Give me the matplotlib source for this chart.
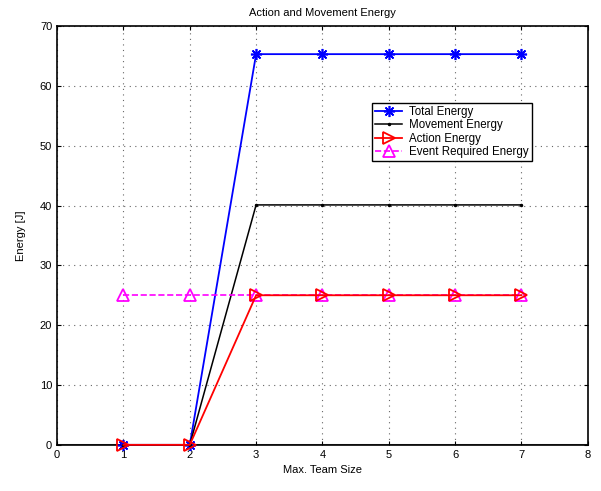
import matplotlib.pyplot as plt

plt.rcParams['font.family'] = ['Liberation Sans', 'DejaVu Sans']

# team sizes and energy per series
team_size = [1, 2, 3, 4, 5, 6, 7]
total_energy = [0, 0, 65.3, 65.3, 65.3, 65.3, 65.3]
movement_energy = [0, 0, 40.1, 40.1, 40.1, 40.1, 40.1]
action_energy = [0, 0, 25.0, 25.0, 25.0, 25.0, 25.0]
event_required = [25, 25, 25, 25, 25, 25, 25]

fig = plt.figure(figsize=(6.01, 4.91), dpi=100)
ax = fig.add_axes([0.095, 0.094, 0.883, 0.853])

# baseline along zero
ax.axhline(0, color='0.35', lw=2.2, zorder=1)
ax.plot(team_size, total_energy, color='blue', marker=(8, 2, 0), markersize=8,
        markeredgewidth=1.2, lw=1.3, label='Total Energy', clip_on=False, zorder=3)
ax.plot(team_size, movement_energy, color='black', marker='.', markersize=3,
        lw=1.1, label='Movement Energy', clip_on=False, zorder=3)
ax.plot(team_size, event_required, color='magenta', ls='--', marker='^',
        markersize=9, markerfacecolor='none', markeredgewidth=1.3, lw=1.2,
        label='Event Required Energy', clip_on=False, zorder=3)
ax.plot(team_size, action_energy, color='red', marker='>', markersize=8,
        markerfacecolor='none', markeredgewidth=1.3, lw=1.3, label='Action Energy',
        clip_on=False, zorder=4)

ax.set_xlim(0, 8)
ax.set_ylim(0, 70)
ax.set_xticks(range(0, 9))
ax.set_yticks(range(0, 71, 10))
ax.grid(True, ls=(0, (1, 4)), color='0.4', lw=0.8)
ax.tick_params(direction='in', top=True, right=True, labelsize=8, length=3)
for s in ax.spines.values():
    s.set_linewidth(1.2)

ax.set_title('Action and Movement Energy', fontsize=8, pad=7)
ax.set_xlabel('Max. Team Size', fontsize=8)
ax.set_ylabel('Energy [J]', fontsize=8, labelpad=10)

h, l = ax.get_legend_handles_labels()
order = [0, 1, 3, 2]
leg = ax.legend([h[i] for i in order], [l[i] for i in order], loc='upper left',
                bbox_to_anchor=(0.593, 0.816), fontsize=8.3, fancybox=False,
                framealpha=1, edgecolor='black', borderpad=0.25, labelspacing=0.12,
                handlelength=2.4, handletextpad=0.6, borderaxespad=0)
leg.get_frame().set_linewidth(1.0)

fig.savefig('out.png', dpi=100)
